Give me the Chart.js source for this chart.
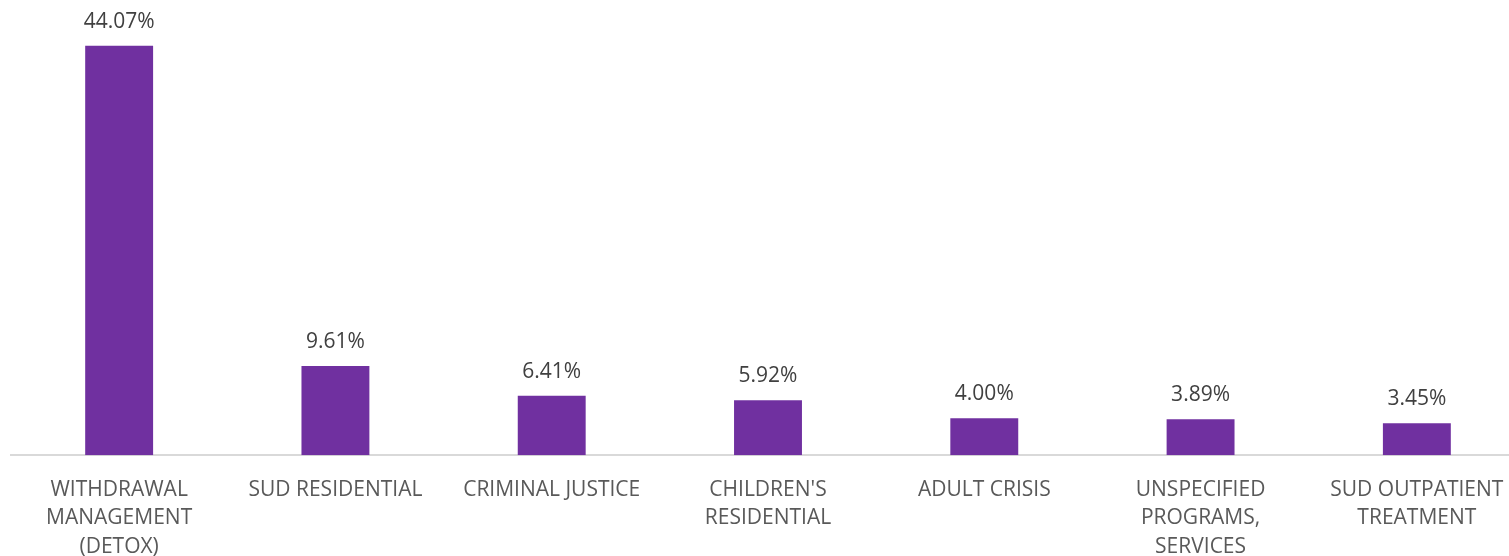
<!DOCTYPE html>
<html>
<head>
<meta charset="utf-8">
<script src="https://cdn.jsdelivr.net/npm/chart.js@4"></script>
<style>
  html, body { margin: 0; padding: 0; background: #fff; overflow: hidden; }
  #wrap { width: 1525px; height: 556px; }
</style>
</head>
<body>
<div id="wrap"><canvas id="programChart"></canvas></div>
<script>
  // categories and values
  const categories = [
    ['WITHDRAWAL', 'MANAGEMENT', '(DETOX)'],
    ['SUD RESIDENTIAL'],
    ['CRIMINAL JUSTICE'],
    ["CHILDREN'S", 'RESIDENTIAL'],
    ['ADULT CRISIS'],
    ['UNSPECIFIED', 'PROGRAMS,', 'SERVICES'],
    ['SUD OUTPATIENT', 'TREATMENT']
  ];
  const percents = [44.07, 9.61, 6.41, 5.92, 4.00, 3.89, 3.45];

  // draws the value above each bar
  const valueLabels = {
    id: 'valueLabels',
    afterDatasetsDraw(chart) {
      const ctx = chart.ctx;
      const meta = chart.getDatasetMeta(0);
      ctx.save();
      ctx.font = '21px "Open Sans"';
      ctx.fillStyle = '#404040';
      ctx.textAlign = 'center';
      ctx.textBaseline = 'middle';
      meta.data.forEach((bar, i) => {
        ctx.fillText(percents[i].toFixed(2) + '%', bar.x, bar.y - 24);
      });
      ctx.restore();
    }
  };

  const ctx1 = document.getElementById('programChart').getContext('2d');
  new Chart(ctx1, {
    type: 'bar',
    data: {
      labels: categories,
      datasets: [{
        data: percents,
        backgroundColor: '#7030A0',
        barPercentage: 1,
        categoryPercentage: 0.314
      }]
    },
    options: {
      responsive: true,
      maintainAspectRatio: false,
      animation: false,
      layout: { padding: { left: 11, right: 0, top: 0, bottom: -25 } },
      plugins: {
        legend: { display: false },
        tooltip: { enabled: false }
      },
      scales: {
        x: {
          grid: { display: false, drawTicks: false },
          border: { color: '#d9d9d9', width: 2 },
          ticks: {
            color: '#595959',
            padding: 20,
            maxRotation: 0,
            autoSkip: false,
            font: { family: 'Open Sans', size: 21, lineHeight: 1.36 }
          }
        },
        y: {
          display: false,
          min: 0,
          max: 49
        }
      }
    },
    plugins: [valueLabels]
  });
</script>
</body>
</html>
